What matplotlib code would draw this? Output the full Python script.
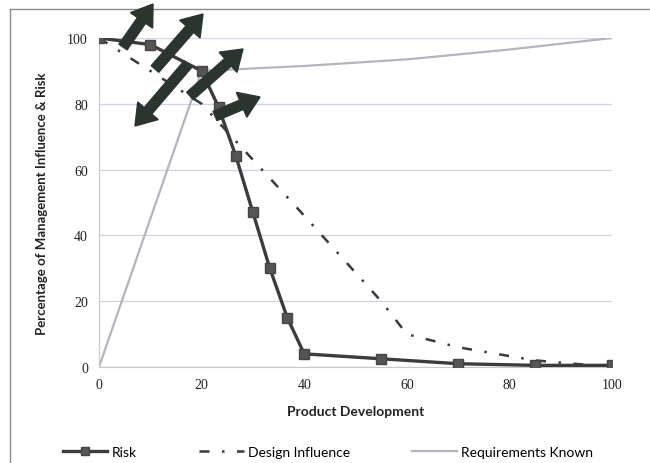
import matplotlib
matplotlib.use("Agg")
import matplotlib.pyplot as plt
from matplotlib.patches import FancyArrow
from matplotlib.lines import Line2D
from matplotlib.transforms import IdentityTransform

# series
risk_x = [0, 10, 20, 23.3, 26.7, 30, 33.3, 36.7, 40, 55, 70, 85, 100]
risk_y = [100, 98, 90, 79, 64, 47, 30, 15, 4, 2.5, 1, 0.5, 0.5]

design_x = [0, 10, 20, 30, 40, 55, 60, 70, 85, 100]
design_y = [100, 90, 80, 63, 46, 20, 10, 6, 2, 0]

req_x = [0, 20, 40, 60, 80, 100]
req_y = [0, 90, 91.5, 93.5, 96.5, 100]

ticks = [0, 20, 40, 60, 80, 100]

# block arrows over the top-left corner: (tail x, tail y, tip x, tip y) in pixels from top-left
arrows = [
    (123, 48, 153, 5),
    (155, 70, 203, 15),
    (188, 65, 135, 127),
    (190, 97, 243, 50),
    (215, 117, 260, 98),
]

DASHDOT = (4, 5, 1, 5)

W, H = 650, 464
fig = plt.figure(figsize=(W / 100, H / 100), dpi=100)
fig.patch.set_facecolor("white")
ax = fig.add_axes([99 / W, 1 - 368 / H, (612 - 99) / W, (368 - 39) / H])

ax.plot(req_x, req_y, color="#b4b4bc", lw=1.6, label="Requirements Known", zorder=2)
ax.plot(design_x, design_y, color="#3a3a3a", lw=1.8, dashes=DASHDOT,
        label="Design Influence", zorder=3)
ax.plot(risk_x, risk_y, color="#3c3c3c", lw=2.4, marker="s", markersize=6.5,
        markerfacecolor="#555555", markeredgecolor="#444444", label="Risk", zorder=4)

ax.set_xlim(0, 100)
ax.set_ylim(0, 100)
ax.set_xticks(ticks)
ax.set_yticks(ticks)
ax.tick_params(length=0, labelsize=10, pad=8, colors="#222222")
for lab in ax.get_xticklabels() + ax.get_yticklabels():
    lab.set_family("Liberation Serif")
ax.grid(axis="y", color="#d2d2e2", lw=0.9)
ax.set_axisbelow(True)
for s in ["top", "right"]:
    ax.spines[s].set_visible(False)
ax.spines["left"].set_color("#c8c8c8")
ax.spines["bottom"].set_color("#c8c8c8")

ax.set_xlabel("Product Development", family="Lato", fontweight="bold", fontsize=10,
              color="#222222", labelpad=10)
ax.set_ylabel("Percentage of Management Influence & Risk", family="Lato",
              fontweight="bold", fontsize=9.5, color="#222222", labelpad=14)

handles = [
    Line2D([], [], color="#3c3c3c", lw=2.4, marker="s", markersize=6,
           markerfacecolor="#555555", markeredgecolor="#444444"),
    Line2D([], [], color="#3a3a3a", lw=1.8, dashes=DASHDOT),
    Line2D([], [], color="#b4b4bc", lw=1.6),
]
fig.legend(handles, ["Risk", "Design Influence", "Requirements Known"],
           loc="center", bbox_to_anchor=(328 / W, 1 - 453 / H), ncol=3,
           frameon=False, handlelength=3.2, handletextpad=0.3, columnspacing=4.5,
           prop={"family": "Lato", "size": 10})

# frame around the chart
fig.add_artist(Line2D([10 / W, 10 / W], [0, 1 - 10 / H], transform=fig.transFigure,
                      color="#8a8a8a", lw=1))
fig.add_artist(Line2D([10 / W, 1], [1 - 10 / H, 1 - 10 / H], transform=fig.transFigure,
                      color="#8a8a8a", lw=1))

for x0, y0, x1, y1 in arrows:
    fig.add_artist(FancyArrow(x0, H - y0, x1 - x0, -(y1 - y0), width=10,
                              head_width=27, head_length=20,
                              length_includes_head=True, color="#2c3430",
                              transform=IdentityTransform(), zorder=10))

fig.savefig("out.png", dpi=100)
